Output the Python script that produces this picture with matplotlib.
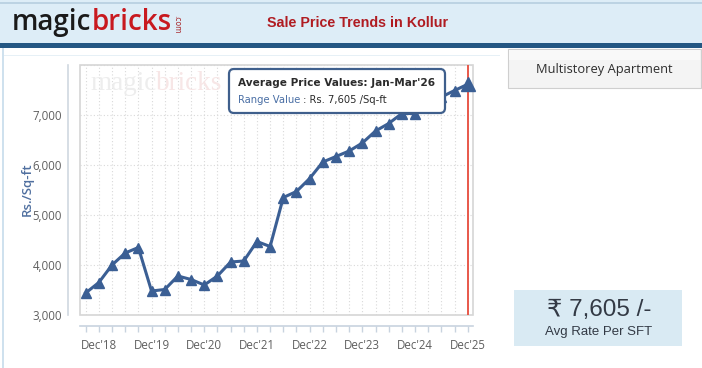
import matplotlib
matplotlib.use("Agg")
import matplotlib.pyplot as plt
from matplotlib.patches import Rectangle, FancyBboxPatch
from matplotlib.transforms import IdentityTransform

# ---------------- data ----------------
quarter_values = [3430, 3640, 3990, 4230, 4340, 3470, 3500, 3770, 3700, 3590,
                  3770, 4050, 4070, 4460, 4360, 5340, 5460, 5720, 6050, 6160,
                  6270, 6430, 6670, 6820, 7020, 7020, 7200, 7350, 7480, 7605]
tick_labels = ["Dec'18", "Dec'19", "Dec'20", "Dec'21", "Dec'22", "Dec'23", "Dec'24", "Dec'25"]
tick_label_idx = [1, 5, 9, 13, 17, 21, 25, 29]
y_ticks = [3000, 4000, 5000, 6000, 7000]
y_tick_labels = ["3,000", "4,000", "5,000", "6,000", "7,000"]
highlight_idx = 29
tooltip_title = "Average Price Values: Jan-Mar'26"
tooltip_label = "Range Value"
tooltip_value = " : Rs. 7,605 /Sq-ft"
page_title = "Sale Price Trends in Kollur"
button_text = "Multistorey Apartment"
rate_text = "\u20b9 7,605 /-"
rate_sub = "Avg Rate Per SFT"

W, H = 702, 368
fig = plt.figure(figsize=(W / 100, H / 100), dpi=100)
fig.patch.set_facecolor("white")
ID = IdentityTransform()


def rect(x0, y0, x1, y1, **kw):
    r = Rectangle((x0, H - y1), x1 - x0, y1 - y0, transform=ID, **kw)
    fig.add_artist(r)
    return r


def txt(x, y, s, **kw):
    return fig.text(x, H - y, s, transform=ID, **kw)


# ---------------- header ----------------
rect(0, 0, W, 44, facecolor="#ddedf7", edgecolor="none", zorder=1)
rect(0, 2, W, 3.5, facecolor="#bcd3e3", edgecolor="none", zorder=1)
rect(0, 43, W, 47.5, facecolor="#245783", edgecolor="none", zorder=2)
rect(2, 44, 4, H, facecolor="#cfe1ee", edgecolor="none", zorder=1)
rect(4, 54.5, 500, 55.5, facecolor="#e6f0f6", edgecolor="none", zorder=1)

t_magic = txt(12, 30, "magic", fontsize=20, color="#1a1a1a", family="Open Sans",
              fontweight="semibold", va="baseline", ha="left", zorder=5)
fig.canvas.draw()
bb = t_magic.get_window_extent()
t_bricks = fig.text(bb.x1 + 0.5, H - 30, "bricks", transform=ID, fontsize=20, color="#c8191f",
                    family="Open Sans", fontweight="semibold", va="baseline", ha="left", zorder=5)
fig.canvas.draw()
bb2 = t_bricks.get_window_extent()
fig.text(bb2.x1 + 5, H - 24, ".com", transform=ID, fontsize=5.5, color="#a8282c",
         rotation=270, va="center", ha="center", zorder=5)

txt(358, 23, page_title, fontsize=10.3, fontweight="bold", color="#b01c22",
    family="Liberation Sans", ha="center", va="center", zorder=5)

# ---------------- right panel ----------------
rect(508, 49, 701, 88, facecolor="#f4f4f4", edgecolor="#cfcfcf", linewidth=0.8, zorder=2)
rect(509, 50, 700, 60, facecolor="#f9f9f9", edgecolor="none", zorder=2)
txt(604, 69, button_text, fontsize=9.3, color="#2e2e2e", family="Open Sans",
    ha="center", va="center", zorder=5)

rect(514, 290, 682, 346, facecolor="#d9eaf3", edgecolor="none", zorder=2)
txt(599, 310, rate_text, fontsize=17.5, color="#333a45",
    family=["Liberation Sans", "DejaVu Sans"], ha="center", va="center", zorder=5)
txt(599, 332, rate_sub, fontsize=9.5, color="#333a45", family="Liberation Sans",
    ha="center", va="center", zorder=5)

# ---------------- chart ----------------
left, right, top, bottom = 80, 473, 64.5, 314.5
ax = fig.add_axes([left / W, 1 - bottom / H, (right - left) / W, (bottom - top) / H])
ax.set_facecolor("white")
x = list(range(len(quarter_values)))
ax.set_xlim(-0.43, 29.4)
ax.set_ylim(3000, 8000)

for xi in x:
    ax.axvline(xi, color="#d9d9d9", lw=0.8, ls=(0, (1, 2)), zorder=1)
for yv in y_ticks[1:] + [8000]:
    ax.axhline(yv, color="#d9d9d9", lw=0.8, ls=(0, (1, 2)), zorder=1)

ax.add_patch(Rectangle((0, 0), 1, 1, transform=ax.transAxes, facecolor="none",
                       edgecolor="#d6d6d6", lw=1.2, zorder=2, clip_on=False))

# watermark
wm_y = 1 - 26 / (bottom - top)
wm = ax.text(10 / (right - left), wm_y, "magic", transform=ax.transAxes,
             fontsize=19.5, family="Liberation Serif", color="#ededed", va="baseline", zorder=1)
fig.canvas.draw()
wb = wm.get_window_extent()
wx = ax.transAxes.inverted().transform((wb.x1, 0))[0]
ax.text(wx, wm_y, "bricks", transform=ax.transAxes,
        fontsize=19.5, family="Liberation Serif", color="#f7e6e6", va="baseline", zorder=1)

# series
ax.plot(x, quarter_values, color="#3b5f94", lw=2.2, marker="^", markersize=6.5,
        markerfacecolor="#3b5f94", markeredgecolor="#3b5f94", zorder=4, clip_on=False)
ax.plot([x[highlight_idx]], [quarter_values[highlight_idx]], marker="^", markersize=10,
        color="#3b5f94", zorder=5, clip_on=False)
ax.axvline(x[highlight_idx], color="#e8584a", lw=1.4, zorder=3)

for s in ["top", "right"]:
    ax.spines[s].set_visible(False)
ax.spines["bottom"].set_position(("outward", 8.5))
ax.spines["left"].set_position(("outward", 9))
ax.spines["bottom"].set_color("#c8d3df")
ax.spines["left"].set_color("#d0d8e0")
ax.spines["bottom"].set_linewidth(1.2)
ax.spines["left"].set_linewidth(1.2)

ax.set_xticks(x)
labels = [""] * len(x)
for i, lab in zip(tick_label_idx, tick_labels):
    labels[i] = lab
ax.set_xticklabels(labels, fontsize=8.3, color="#5f5f5f", family="Open Sans")
ax.tick_params(axis="x", length=4, color="#c8d3df", width=1, pad=5)
ax.set_yticks(y_ticks)
ax.set_yticklabels(y_tick_labels, fontsize=8.3, color="#5f5f5f", family="Open Sans")
ax.tick_params(axis="y", length=0, pad=4)
ax.set_ylabel("Rs./Sq-ft", fontsize=9.5, color="#4f6f9f", family="Open Sans",
              fontweight="semibold", labelpad=-1)

# tooltip
tip = FancyBboxPatch((229, H - 113), 216, 44, boxstyle="round,pad=0,rounding_size=5",
                     transform=ID, facecolor="white", edgecolor="#3f5f8c", lw=1.6, zorder=20)
fig.add_artist(tip)
txt(238, 83, tooltip_title, fontsize=7.6, fontweight="bold", color="#2b2b2b",
    family="DejaVu Sans", ha="left", va="center", zorder=21)
tl = txt(238, 100, tooltip_label, fontsize=7.2, color="#4a6fa5", family="DejaVu Sans",
         ha="left", va="center", zorder=21)
fig.canvas.draw()
tlb = tl.get_window_extent()
fig.text(tlb.x1, H - 100, tooltip_value, transform=ID, fontsize=7.2, color="#2b2b2b",
         family="DejaVu Sans", ha="left", va="center", zorder=21)

fig.savefig("out.png", dpi=100)
